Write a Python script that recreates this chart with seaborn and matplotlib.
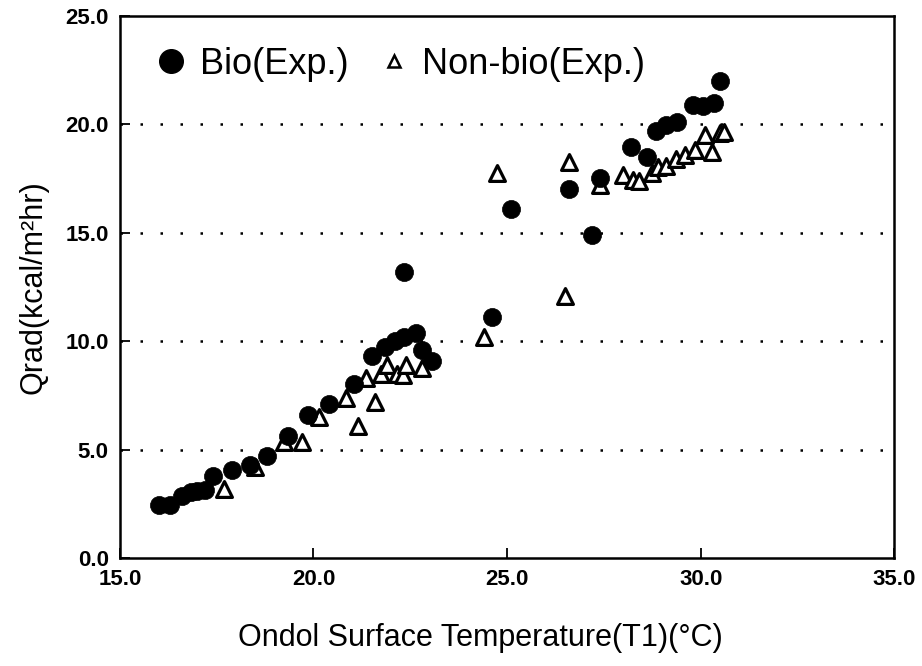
import numpy as np
import pandas as pd
import seaborn as sns
import matplotlib.pyplot as plt
from matplotlib.lines import Line2D

# 데이터
bio_x = [16.0, 16.3, 16.6, 16.85, 17.0, 17.2, 17.4, 17.9, 18.35, 18.8, 19.35, 19.85,
         20.4, 21.05, 21.5, 21.85, 22.1, 22.35, 22.65, 22.8, 23.05, 22.35, 24.6, 25.1,
         26.6, 27.2, 27.4, 28.2, 28.6, 28.85, 29.1, 29.4, 29.8, 30.05, 30.35, 30.5]
bio_y = [2.45, 2.45, 2.85, 3.05, 3.1, 3.15, 3.8, 4.05, 4.3, 4.7, 5.65, 6.6,
         7.1, 8.05, 9.3, 9.75, 10.0, 10.2, 10.4, 9.6, 9.1, 13.2, 11.1, 16.1,
         17.0, 14.9, 17.55, 18.95, 18.5, 19.7, 19.95, 20.1, 20.9, 20.85, 21.0, 22.0]

non_x = [17.7, 18.5, 19.25, 19.7, 20.15, 20.85, 21.15, 21.35, 21.6, 21.75, 21.9,
         22.15, 22.3, 22.4, 22.8, 24.4, 24.75, 26.5, 26.6, 27.4, 28.0, 28.25, 28.4,
         28.75, 28.9, 29.1, 29.35, 29.6, 29.85, 30.1, 30.3, 30.5, 30.6]
non_y = [3.2, 4.2, 5.35, 5.35, 6.5, 7.4, 6.1, 8.3, 7.2, 8.5, 8.9,
         8.5, 8.45, 8.9, 8.75, 10.2, 17.75, 12.1, 18.25, 17.2, 17.65, 17.45, 17.4,
         17.75, 18.05, 18.1, 18.4, 18.6, 18.8, 19.5, 18.75, 19.6, 19.65]

x_ticks = [15.0, 20.0, 25.0, 30.0, 35.0]
y_ticks = [0.0, 5.0, 10.0, 15.0, 20.0, 25.0]
labels = ["Bio(Exp.)", "Non-bio(Exp.)"]

bio = pd.DataFrame({"T1": bio_x, "Qrad": bio_y})
non = pd.DataFrame({"T1": non_x, "Qrad": non_y})

sns.set_theme(style="white")
plt.rcParams['font.family'] = ['Liberation Sans', 'DejaVu Sans']
plt.rcParams['text.color'] = 'black'
plt.rcParams['axes.labelcolor'] = 'black'

fig = plt.figure(figsize=(9.22, 6.66), dpi=100)
ax = fig.add_axes([0.130, 0.162, 0.840, 0.814])

# 점선 그리드
for v in y_ticks[1:-1]:
    ax.axhline(v, color="black", linestyle=(0, (1, 7)), linewidth=1.8, zorder=0)

sns.scatterplot(data=bio, x="T1", y="Qrad", ax=ax, marker="o", s=170,
                color="black", edgecolor="black", linewidth=0.5, zorder=3)
sns.scatterplot(data=non, x="T1", y="Qrad", ax=ax, marker="^", s=130,
                facecolor="white", edgecolor="black", linewidth=2.3, zorder=2)

ax.set_xlim(15, 35)
ax.set_ylim(0, 25)
ax.set_xticks(x_ticks)
ax.set_yticks(y_ticks)
ax.set_xticklabels([f"{t:.1f}" for t in x_ticks], fontsize=16, fontweight="bold")
ax.set_yticklabels([f"{t:.1f}" for t in y_ticks], fontsize=16, fontweight="bold")
ax.tick_params(direction="in", length=7, width=1.3, colors="black",
               bottom=True, left=True, pad=8)

for s in ax.spines.values():
    s.set_color("black")
    s.set_linewidth(1.8)

ax.set_xlabel("Ondol Surface Temperature(T1)(°C)", fontsize=22,
              family=['Liberation Sans Narrow', 'Liberation Sans', 'DejaVu Sans'])
ax.xaxis.set_label_coords(0.465, -0.12)
ax.set_ylabel("Qrad(kcal/m²hr)", fontsize=22,
              family=['Liberation Sans Narrow', 'Liberation Sans', 'DejaVu Sans'], labelpad=12)

handles = [
    Line2D([], [], marker="o", linestyle="", color="black", markersize=17),
    Line2D([], [], marker="^", linestyle="", markerfacecolor="white",
           markeredgecolor="black", markeredgewidth=1.8, markersize=9),
]
ax.legend(handles, labels, loc="upper left", bbox_to_anchor=(0.01, 0.99),
          ncol=2, frameon=False, fontsize=26, handletextpad=0.3,
          columnspacing=0.75, handlelength=1.0, borderaxespad=0.3)

fig.savefig("out.png", dpi=100)
